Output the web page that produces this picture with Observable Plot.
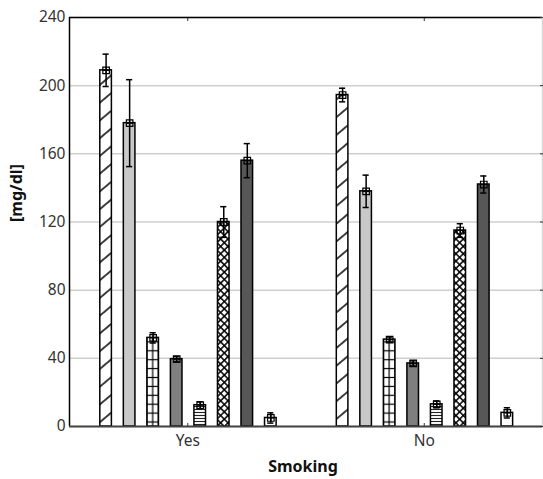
<!DOCTYPE html>
<html><head><meta charset="utf-8">
<script src="https://cdn.jsdelivr.net/npm/d3@7"></script>
<script src="https://cdn.jsdelivr.net/npm/@observablehq/plot@0.6"></script>
<style>body{margin:0;background:#fff}</style>
</head><body><div id="chart"></div>
<script>
// ---- data ----
const groups = ["Yes", "No"];
const yesValues = [209, 178, 52, 39.5, 12.5, 120, 156, 5];
const yesErrors = [9.5, 25.5, 3, 1.5, 2, 9, 10, 3];
const noValues = [194.5, 138, 51, 37, 13, 115, 142, 8];
const noErrors = [4, 9.5, 1.5, 1.5, 2, 4, 5, 3];
const yTicks = [0, 40, 80, 120, 160, 200, 240];
const xLabel = "Smoking";
const yLabel = "[mg/dl]";

// ---- styles (per series) ----
const seriesFill = ["url(#hatch)", "#c8c8c8", "grid", "#7f7f7f", "url(#hlines)", "url(#xhatch)", "#575757", "white"];
const step = 0.0995, halfW = 0.0245, capW = 0.013;

const bars = [];
groups.forEach((g, gi) => {
  const vals = gi === 0 ? yesValues : noValues;
  const errs = gi === 0 ? yesErrors : noErrors;
  vals.forEach((v, si) => bars.push({group: g, gi, si, value: v, err: errs[si],
    cx: gi + 0.5 + (si - 3.5) * step + 0.003}));
});
const fillOf = d => seriesFill[d.si] === "grid" ? `url(#grid-${d.gi})` : seriesFill[d.si];
const centers = groups.map((g, i) => i + 0.5);

const plot = Plot.plot({
  width: 543, height: 479,
  marginLeft: 69, marginRight: 1, marginTop: 17, marginBottom: 53,
  x: {domain: [0, 2], axis: null},
  y: {domain: [0, 240], axis: null},
  color: {type: "identity"},
  style: {fontFamily: "'Noto Sans', sans-serif", fontSize: "15.5px", color: "#333", background: "white"},
  marks: [
    Plot.ruleY(yTicks, {stroke: "#cfcfcf", strokeWidth: 1.5}),
    Plot.rectY(bars, {x1: d => d.cx - halfW, x2: d => d.cx + halfW, y: "value", fill: fillOf, stroke: "black", strokeWidth: 1.5}),
    Plot.ruleX(bars, {x: "cx", y1: d => d.value - d.err, y2: d => d.value + d.err, stroke: "black", strokeWidth: 1.5}),
    Plot.ruleY(bars, {y: d => d.value + d.err, x1: d => d.cx - capW, x2: d => d.cx + capW, stroke: "black", strokeWidth: 1.5}),
    Plot.ruleY(bars, {y: d => d.value - d.err, x1: d => d.cx - capW, x2: d => d.cx + capW, stroke: "black", strokeWidth: 1.5}),
    Plot.dot(bars, {x: "cx", y: "value", symbol: "square", r: 3.7, stroke: "black", strokeWidth: 1.2, fill: "none"}),
    Plot.dot(bars, {x: "cx", y: "value", symbol: "plus", r: 2.3, stroke: "black", strokeWidth: 1.2}),
    Plot.ruleX([0], {stroke: "black", strokeWidth: 1.5}),
    Plot.ruleY([240], {stroke: "black", strokeWidth: 1.5}),
    Plot.ruleX([2], {stroke: "#d8d8d8", strokeWidth: 1.5}),
    Plot.ruleY([0], {stroke: "#444", strokeWidth: 2}),
    Plot.axisY({ticks: yTicks, tickSize: 0, tickPadding: 4, label: null, fontSize: 15.5}),
    Plot.axisY({anchor: "right", ticks: yTicks, tickSize: -3, tickFormat: () => "", label: null, stroke: "#333"}),
    Plot.axisX({ticks: centers, tickFormat: d => groups[Math.floor(d)], tickSize: 0, tickPadding: 8, label: null, fontSize: 15.5}),
    Plot.axisX({anchor: "top", ticks: centers, tickSize: -3, tickFormat: () => "", label: null, stroke: "#333"}),
    Plot.axisX({anchor: "bottom", ticks: centers, tickSize: -3, tickFormat: () => "", label: null, stroke: "#333"}),
    Plot.text([yLabel], {frameAnchor: "left", dx: -53, dy: 0, rotate: -90, fontWeight: "bold", fontSize: 16, fill: "#111"}),
    Plot.text([xLabel], {frameAnchor: "bottom", dy: 45, dx: -3, fontWeight: "bold", fontSize: 16, fill: "#111"})
  ]
});

// ---- SVG pattern definitions ----
const xs = plot.scale("x");
const ns = "http://www.w3.org/2000/svg";
let defsHtml = `
<pattern id="hatch" patternUnits="userSpaceOnUse" width="20" height="13.6" patternTransform="rotate(-40)">
  <rect width="20" height="13.6" fill="white"/><line x1="0" y1="6.8" x2="20" y2="6.8" stroke="black" stroke-width="1.5"/>
</pattern>
<pattern id="hlines" patternUnits="userSpaceOnUse" width="6" height="3">
  <rect width="6" height="3" fill="white"/><line x1="0" y1="1.5" x2="6" y2="1.5" stroke="#222" stroke-width="1.1"/>
</pattern>
<pattern id="xhatch" patternUnits="userSpaceOnUse" width="5.2" height="5.2" patternTransform="rotate(45)">
  <rect width="5.2" height="5.2" fill="white"/>
  <line x1="0" y1="2.6" x2="5.2" y2="2.6" stroke="black" stroke-width="1.5"/>
  <line x1="2.6" y1="0" x2="2.6" y2="5.2" stroke="black" stroke-width="1.5"/>
</pattern>`;
bars.filter(d => seriesFill[d.si] === "grid").forEach(d => {
  const left = xs.apply(d.cx - halfW), right = xs.apply(d.cx + halfW);
  const w = (right - left) / 2, h = 8.9;
  defsHtml += `<pattern id="grid-${d.gi}" patternUnits="userSpaceOnUse" x="${left + w / 2}" y="${426 - h / 2 - 4}" width="${w}" height="${h}">
    <rect width="${w}" height="${h}" fill="white"/>
    <line x1="${w / 2}" y1="0" x2="${w / 2}" y2="${h}" stroke="black" stroke-width="1.2"/>
    <line x1="0" y1="${h / 2}" x2="${w}" y2="${h / 2}" stroke="black" stroke-width="1.2"/>
  </pattern>`;
});
const defs = document.createElementNS(ns, "defs");
defs.innerHTML = defsHtml;
plot.insertBefore(defs, plot.firstChild);
document.getElementById("chart").appendChild(plot);
</script></body></html>
